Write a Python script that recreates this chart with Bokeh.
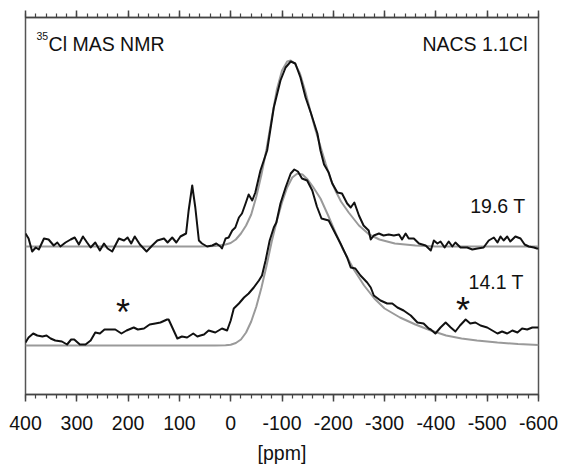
from bokeh.plotting import figure
from bokeh.models import Range1d, LinearAxis, FixedTicker, ColumnDataSource, CustomJSTickFormatter
from bokeh.embed import file_html
from bokeh.resources import INLINE
from bokeh.core.properties import value

# ---------------- data ----------------
x_major_ticks = [400, 300, 200, 100, 0, -100, -200, -300, -400, -500, -600]
x_tick_labels = ["400", "300", "200", "100", "0", "-100", "-200", "-300", "-400", "-500", "-600"]
x_minor_ticks = list(range(400, -601, -20))

top_offset = 148      # baseline of 19.6 T trace (a.u.)
bottom_offset = 49    # baseline of 14.1 T trace (a.u.)

top_data_ppm = [400, 394, 387, 380, 374, 364, 355, 345, 338, 332, 322, 312, 304, 296, 288, 280,
                273, 264, 255, 247, 240, 231, 218, 208, 201, 194, 187, 177, 164, 153, 143, 130,
                123, 114, 106, 98, 87, 82, 75, 69, 62, 56, 46, 36, 28, 20, 17, 10, 4, -3, -9,
                -16, -22, -29, -35, -42, -48, -58, -71, -84, -97, -107, -117, -126, -136, -146,
                -156, -169, -175, -182, -191, -198, -208, -217, -227, -234, -241, -250, -259,
                -269, -273, -279, -289, -298, -308, -318, -328, -334, -341, -347, -357, -367,
                -380, -390, -396, -403, -409, -417, -425, -432, -438, -448, -461, -471, -481,
                -493, -503, -513, -520, -526, -532, -539, -545, -555, -565, -573, -581, -591,
                -597, -600]
top_data_int = [13, 8, -5, -1, -3, 8, 7, 1, 4, 0, 4, 7, 9, 2, 10, 4,
                -1, 4, -4, 3, -2, -5, 8, 6, 9, 3, 10, 2, -5, 1, 6, 8,
                4, 9, 4, 10, 13, 36, 61, 39, 6, 3, 0, 1, 3, 0, -2, 8, 9, 16, 19,
                29, 33, 43, 52, 46, 54, 76, 96, 139, 166, 179, 185, 183, 169, 149,
                134, 113, 96, 82, 74, 63, 54, 53, 43, 39, 44, 31, 21,
                16, 7, 11, 13, 11, 12, 11, 12, 7, 13, 8, 8, 3,
                1, -4, 6, 3, 5, -1, 5, 0, 4, -1, -1, -3, -2,
                -1, 6, 9, 4, 10, 6, 10, 5, 10, 8, 2, 0, -1,
                -2, -2]

top_fit_ppm = [400, 60, 30, 10, 0, -10, -20, -30, -40, -50, -60, -70, -80, -90, -100, -110,
               -117, -125, -135, -145, -155, -165, -175, -185, -195, -205, -215, -230, -250,
               -270, -290, -320, -360, -400, -600]
top_fit_int = [0, 0, 0.5, 2, 3.5, 7, 13, 21, 32, 50, 72, 98, 128, 157, 176, 185,
               186, 183, 173, 156, 136, 117, 100, 83, 67, 55, 45, 34, 21,
               12, 7, 3, 1, 0, 0]

bottom_data_ppm = [400, 394, 385, 377, 367, 359, 351, 342, 329, 319, 311, 305, 294, 283, 273,
                   264, 255, 246, 234, 225, 213, 203, 189, 181, 169, 158, 147, 137, 124, 121,
                   104, 95, 85, 73, 65, 59, 52, 43, 30, 17, 7, 0, -6, -16, -26, -35, -45, -55,
                   -61, -68, -76, -84, -89, -97, -107, -117, -124, -131, -139, -149, -159, -168,
                   -177, -191, -201, -214, -227, -234, -243, -253, -266, -273, -279, -292, -305,
                   -315, -325, -337, -351, -364, -376, -386, -390, -399, -409, -419, -429, -438,
                   -447, -458, -467, -477, -487, -500, -510, -520, -529, -539, -549, -559, -568,
                   -578, -588, -597, -600]
bottom_data_int = [3, 8, 12, 10, 9, 10, 7, 5, 4, 1, 6, 6, 1, 1, 5,
                   13, 12, 16, 16, 16, 12, 15, 18, 16, 17, 21, 22, 23, 26, 26,
                   7, 9, 8, 12, 9, 10, 11, 15, 13, 17, 15, 25, 37, 42, 48, 52, 58, 65,
                   70, 85, 105, 118, 123, 142, 158, 172, 176, 174, 167, 165, 155, 139,
                   127, 125, 115, 102, 88, 78, 77, 70, 63, 58, 50, 45, 42,
                   42, 38, 35, 30, 23, 22, 17, 16, 12, 18, 23, 18, 14,
                   20, 26, 22, 23, 20, 18, 15, 12, 14, 12, 15, 13, 17,
                   16, 18, 18, 18]

bottom_fit_ppm = [400, 30, 10, 0, -10, -20, -30, -40, -50, -60, -70, -80, -90, -100, -110,
                  -120, -130, -140, -150, -160, -175, -190, -205, -220, -240, -260, -280,
                  -300, -330, -360, -390, -420, -450, -480, -520, -560, -600]
bottom_fit_int = [0, 0, 0.3, 0.8, 2.5, 6, 13, 24, 39, 58, 80, 104, 125, 143, 158,
                  168, 172, 171, 166, 159, 147, 130, 112, 95, 76, 60, 47,
                  37, 28, 21, 15, 10, 7, 5, 3, 1.5, 0.5]

field_labels = ["19.6 T", "14.1 T"]
sideband_ppm = [210, -453]

FONT = "Liberation Sans"
FS = "19.5px"
AX = "#444444"

# ---------------- figure ----------------
p = figure(width=564, height=466, output_backend="svg", toolbar_location=None,
           x_range=Range1d(400, -600), y_range=Range1d(0, 377),
           y_axis_location=None, x_axis_location="below",
           min_border_left=25, min_border_right=26, min_border_top=17, min_border_bottom=72)
p.grid.visible = False
p.background_fill_color = "white"
p.border_fill_color = "white"
p.outline_line_color = "#555555"
p.outline_line_width = 1.5

ticker = FixedTicker(ticks=x_major_ticks, minor_ticks=x_minor_ticks)
xa = p.xaxis[0]
xa.ticker = ticker
xa.major_label_overrides = dict(zip(x_major_ticks, x_tick_labels))
xa.axis_label = "[ppm]"
xa.axis_label_text_font = FONT
xa.axis_label_text_font_size = FS
xa.axis_label_text_font_style = "normal"
xa.axis_label_text_color = "#111111"
xa.axis_label_standoff = 9
xa.major_label_text_font = FONT
xa.major_label_text_font_size = FS
xa.major_label_text_color = "#111111"
xa.major_label_standoff = 14
xa.major_tick_in = 0
xa.major_tick_out = 7
xa.minor_tick_in = 0
xa.minor_tick_out = 4
xa.axis_line_color = AX
xa.axis_line_width = 1.5
xa.major_tick_line_color = AX
xa.major_tick_line_width = 1.5
xa.minor_tick_line_color = AX
xa.minor_tick_line_width = 1.2

top_axis = LinearAxis(ticker=ticker, formatter=CustomJSTickFormatter(code="return ''"),
                      major_label_standoff=0, major_label_text_font_size="1px",
                      major_tick_in=0, major_tick_out=7,
                      minor_tick_in=0, minor_tick_out=4,
                      axis_line_color=AX, axis_line_width=1.5,
                      major_tick_line_color=AX, major_tick_line_width=1.5,
                      minor_tick_line_color=AX, minor_tick_line_width=1.2)
p.add_layout(top_axis, "above")

# ---------------- traces ----------------
src_top_fit = ColumnDataSource(dict(x=top_fit_ppm, y=[v + top_offset for v in top_fit_int]))
src_bot_fit = ColumnDataSource(dict(x=bottom_fit_ppm, y=[v + bottom_offset for v in bottom_fit_int]))
src_top = ColumnDataSource(dict(x=top_data_ppm, y=[v + top_offset for v in top_data_int]))
src_bot = ColumnDataSource(dict(x=bottom_data_ppm, y=[v + bottom_offset for v in bottom_data_int]))

p.line("x", "y", source=src_top_fit, line_color="#9a9a9a", line_width=2)
p.line("x", "y", source=src_bot_fit, line_color="#9a9a9a", line_width=2)
p.line("x", "y", source=src_top, line_color="#111111", line_width=2, line_join="round")
p.line("x", "y", source=src_bot, line_color="#111111", line_width=2, line_join="round")

# ---------------- annotations ----------------
p.text(x=[355], y=[351], text=["Cl MAS NMR"], text_font=value(FONT), text_font_size=FS,
       text_color="#111111", text_align="left", text_baseline="alphabetic")
p.text(x=[378.6], y=[359], text=["35"], text_font=value(FONT), text_font_size="10.5px",
       text_color="#111111", text_align="left", text_baseline="alphabetic")
p.text(x=[-578.6], y=[350.5], text=["NACS 1.1Cl"], text_font=value(FONT), text_font_size=FS,
       text_color="#111111", text_align="right", text_baseline="alphabetic")
p.text(x=[-574.7, -571.4], y=[188.5, 112.5], text=field_labels, text_font=value(FONT),
       text_font_size=FS, text_color="#111111", text_align="right", text_baseline="alphabetic")
p.text(x=sideband_ppm, y=[81.7, 83.7], text=["*", "*"], text_font=value(FONT),
       text_font_size="36px", text_color="#111111", text_align="center",
       text_baseline="alphabetic")

open("out.html", "w").write(file_html(p, INLINE))
